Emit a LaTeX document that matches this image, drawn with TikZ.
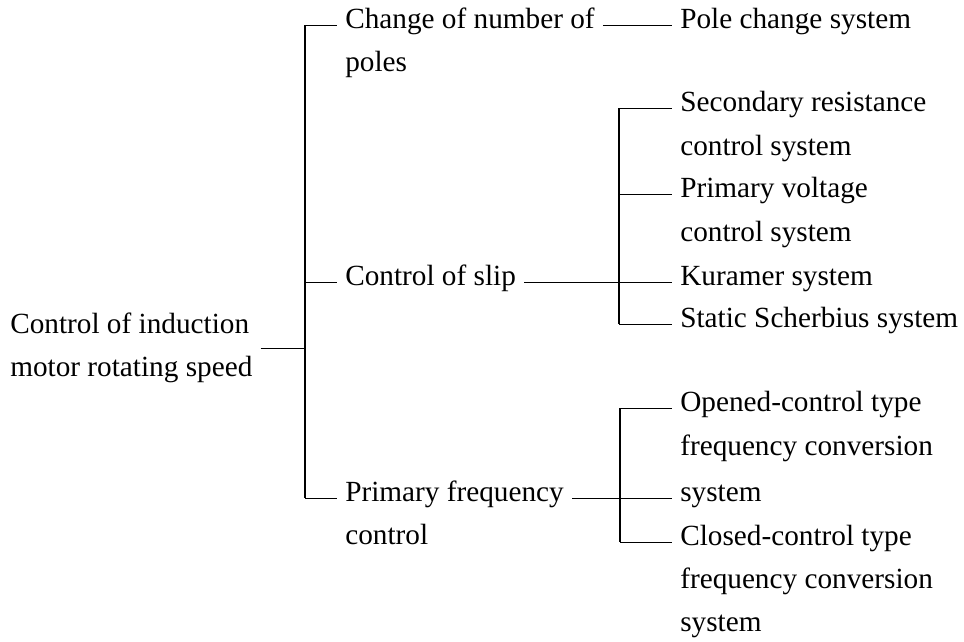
\documentclass[tikz,border=0pt]{standalone}
\usepackage{fontspec}
\setmainfont{Liberation Serif}
\usetikzlibrary{positioning}
\tikzset{
  item/.style={anchor=west, inner xsep=0.2cm, inner ysep=0pt, text height=0.75em, text depth=0.22em, font=\fontsize{20.8}{30.6}\selectfont},
  rootbox/.style={anchor=west, align=left, inner xsep=0.2cm, inner ysep=0pt, font=\fontsize{20.8}{30.6}\selectfont},
  link/.style={line width=0.6pt},
  bar/.style={line width=1pt}
}
\begin{document}
\begin{tikzpicture}[x=0.025cm, y=-0.025cm]
  \useasboundingbox (0,0) rectangle (964,641);
  % root
  \node[rootbox] (root) at (2,348) {Control of induction\\motor rotating speed};
  % first level
  \node[item] (poles) at (337,25) {Change of number of};
  \node[item] (poles2) at (337,68) {poles};
  \node[item] (slip) at (337,282) {Control of slip};
  \node[item] (freq) at (337,498) {Primary frequency};
  \node[item] (freq2) at (337,541) {control};
  % second level
  \node[item] (pcs) at (672,25) {Pole change system};
  \node[item] (sec) at (672,108) {Secondary resistance};
  \node[item] (sec2) at (672,152) {control system};
  \node[item] (pv) at (672,194) {Primary voltage};
  \node[item] (pv2) at (672,238) {control system};
  \node[item] (kur) at (672,282) {Kuramer system};
  \node[item] (scb) at (672,324) {Static Scherbius system};
  \node[item] (open) at (672,408) {Opened-control type};
  \node[item] (open2) at (672,452) {frequency conversion};
  \node[item] (open3) at (672,498) {system};
  \node[item] (closed) at (672,542) {Closed-control type};
  \node[item] (closed2) at (672,585) {frequency conversion};
  \node[item] (closed3) at (672,628) {system};
  % brackets
  \coordinate (b0) at (305,0);
  \coordinate (b1) at (619,0);
  \coordinate (b2) at (620,0);
  \draw[link] (root.east) -- (root.east -| b0);
  \draw[bar] (b0 |- poles.west) -- (b0 |- freq.west);
  \draw[link] (b0 |- poles.west) -- (poles.west);
  \draw[link] (b0 |- slip.west) -- (slip.west);
  \draw[link] (b0 |- freq.west) -- (freq.west);
  \draw[link] (poles.east) -- (pcs.west);
  \draw[link] (slip.east) -- (kur.west);
  \draw[bar] (b1 |- sec.west) -- (b1 |- scb.west);
  \draw[link] (b1 |- sec.west) -- (sec.west);
  \draw[link] (b1 |- pv.west) -- (pv.west);
  \draw[link] (b1 |- scb.west) -- (scb.west);
  \draw[link] (freq.east) -- (open3.west);
  \draw[bar] (b2 |- open.west) -- (b2 |- closed.west);
  \draw[link] (b2 |- open.west) -- (open.west);
  \draw[link] (b2 |- closed.west) -- (closed.west);
\end{tikzpicture}
\end{document}
